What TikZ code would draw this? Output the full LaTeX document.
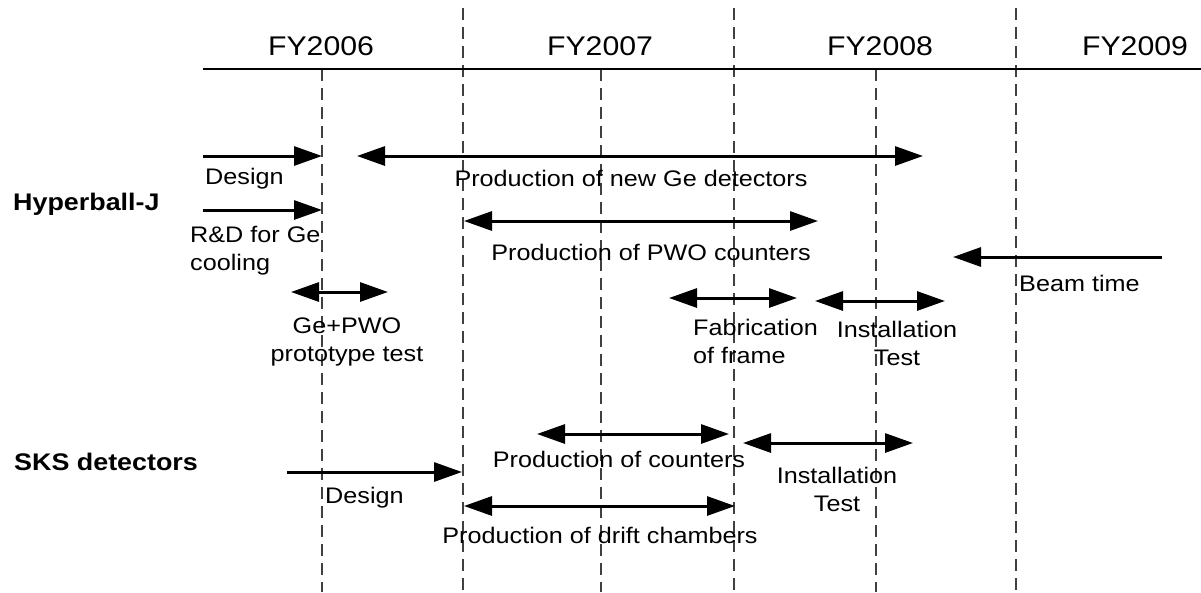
\documentclass[tikz,border=0pt]{standalone}
\usepackage{fontspec}
\setmainfont{Liberation Sans}[FakeStretch=1.12]
\usetikzlibrary{arrows.meta}

\begin{document}
\begin{tikzpicture}[x=1pt, y=-1pt,
        task/.style={line width=3pt, >={Triangle[length=28pt, width=19pt]}},
        yearline/.style={black!75, line width=1.1pt, dash pattern=on 12pt off 7pt},
        lbl/.style={inner sep=0pt, font=\fontsize{22.5}{28}\selectfont},
        yearlbl/.style={inner sep=0pt, font=\fontsize{27}{32}\selectfont},
        rowlbl/.style={inner sep=0pt, font=\fontsize{24}{28}\selectfont\bfseries}
    ]
    \useasboundingbox (0,0) rectangle (1201,592);

    % year boundaries (long) and half years (short)
    \foreach \x in {463,734,1016}{
        \coordinate (top\x) at (\x,8);
        \coordinate (bot\x) at (\x,592);
        \draw[yearline] (top\x) -- (bot\x);
    }
    \foreach \x in {322,601,876}{
        \coordinate (top\x) at (\x,69);
        \coordinate (bot\x) at (\x,592);
        \draw[yearline] (top\x) -- (bot\x);
    }
    \coordinate (axisL) at (203,69);
    \coordinate (axisR) at (1201,69);
    \draw[line width=2.5pt] (axisL) -- (axisR);

    \foreach \x/\y in {321/2006,600/2007,880/2008,1135/2009}{
        \node[yearlbl, anchor=base] (fy\y) at (\x,55) {FY\y};
    }

    % Hyperball-J
    \node[rowlbl, anchor=base west] (hb) at (13,210) {Hyperball-J};

    \coordinate (hbdesignS) at (203,156);
    \coordinate (hbdesignE) at (322,156);
    \draw[task, ->] (hbdesignS) -- (hbdesignE);
    \node[lbl, anchor=base west] (hbdesign) at (205,184) {Design};

    \coordinate (geS) at (357,156);
    \coordinate (geE) at (923,156);
    \draw[task, <->] (geS) -- (geE);
    \node[lbl, anchor=base] (ge) at (631,186) {Production of new Ge detectors};

    \coordinate (rdS) at (203,210);
    \coordinate (rdE) at (322,210);
    \draw[task, ->] (rdS) -- (rdE);
    \node[lbl, anchor=base west, align=left] (rd) at (190,270) {R\&D for Ge\\cooling};

    \coordinate (pwoS) at (464,221);
    \coordinate (pwoE) at (818,221);
    \draw[task, <->] (pwoS) -- (pwoE);
    \node[lbl, anchor=base] (pwo) at (651,260) {Production of PWO counters};

    \coordinate (beamS) at (1162,257);
    \coordinate (beamE) at (953,257);
    \draw[task, ->] (beamS) -- (beamE);
    \node[lbl, anchor=base west] (beam) at (1019,291) {Beam time};

    \coordinate (protoS) at (291,292);
    \coordinate (protoE) at (388,292);
    \draw[task, <->] (protoS) -- (protoE);
    \node[lbl, anchor=base, align=center] (proto) at (347,361) {Ge+PWO\\prototype test};

    \coordinate (frameS) at (669,298);
    \coordinate (frameE) at (797,298);
    \draw[task, <->] (frameS) -- (frameE);
    \node[lbl, anchor=base west, align=left] (frame) at (693,363) {Fabrication\\of frame};

    \coordinate (hbinstS) at (815,301);
    \coordinate (hbinstE) at (945,301);
    \draw[task, <->] (hbinstS) -- (hbinstE);
    \node[lbl, anchor=base, align=center] (hbinst) at (897,365) {Installation\\Test};

    % SKS detectors
    \node[rowlbl, anchor=base west] (sks) at (14,470) {SKS detectors};

    \coordinate (sksdesignS) at (287,472);
    \coordinate (sksdesignE) at (462,472);
    \draw[task, ->] (sksdesignS) -- (sksdesignE);
    \node[lbl, anchor=base west] (sksdesign) at (325,503) {Design};

    \coordinate (cntS) at (537,434);
    \coordinate (cntE) at (729,434);
    \draw[task, <->] (cntS) -- (cntE);
    \node[lbl, anchor=base] (cnt) at (619,467) {Production of counters};

    \coordinate (sksinstS) at (743,443);
    \coordinate (sksinstE) at (913,443);
    \draw[task, <->] (sksinstS) -- (sksinstE);
    \node[lbl, anchor=base, align=center] (sksinst) at (837,511) {Installation\\Test};

    \coordinate (driftS) at (464,506);
    \coordinate (driftE) at (735,506);
    \draw[task, <->] (driftS) -- (driftE);
    \node[lbl, anchor=base] (drift) at (600,543) {Production of drift chambers};
\end{tikzpicture}
\end{document}
